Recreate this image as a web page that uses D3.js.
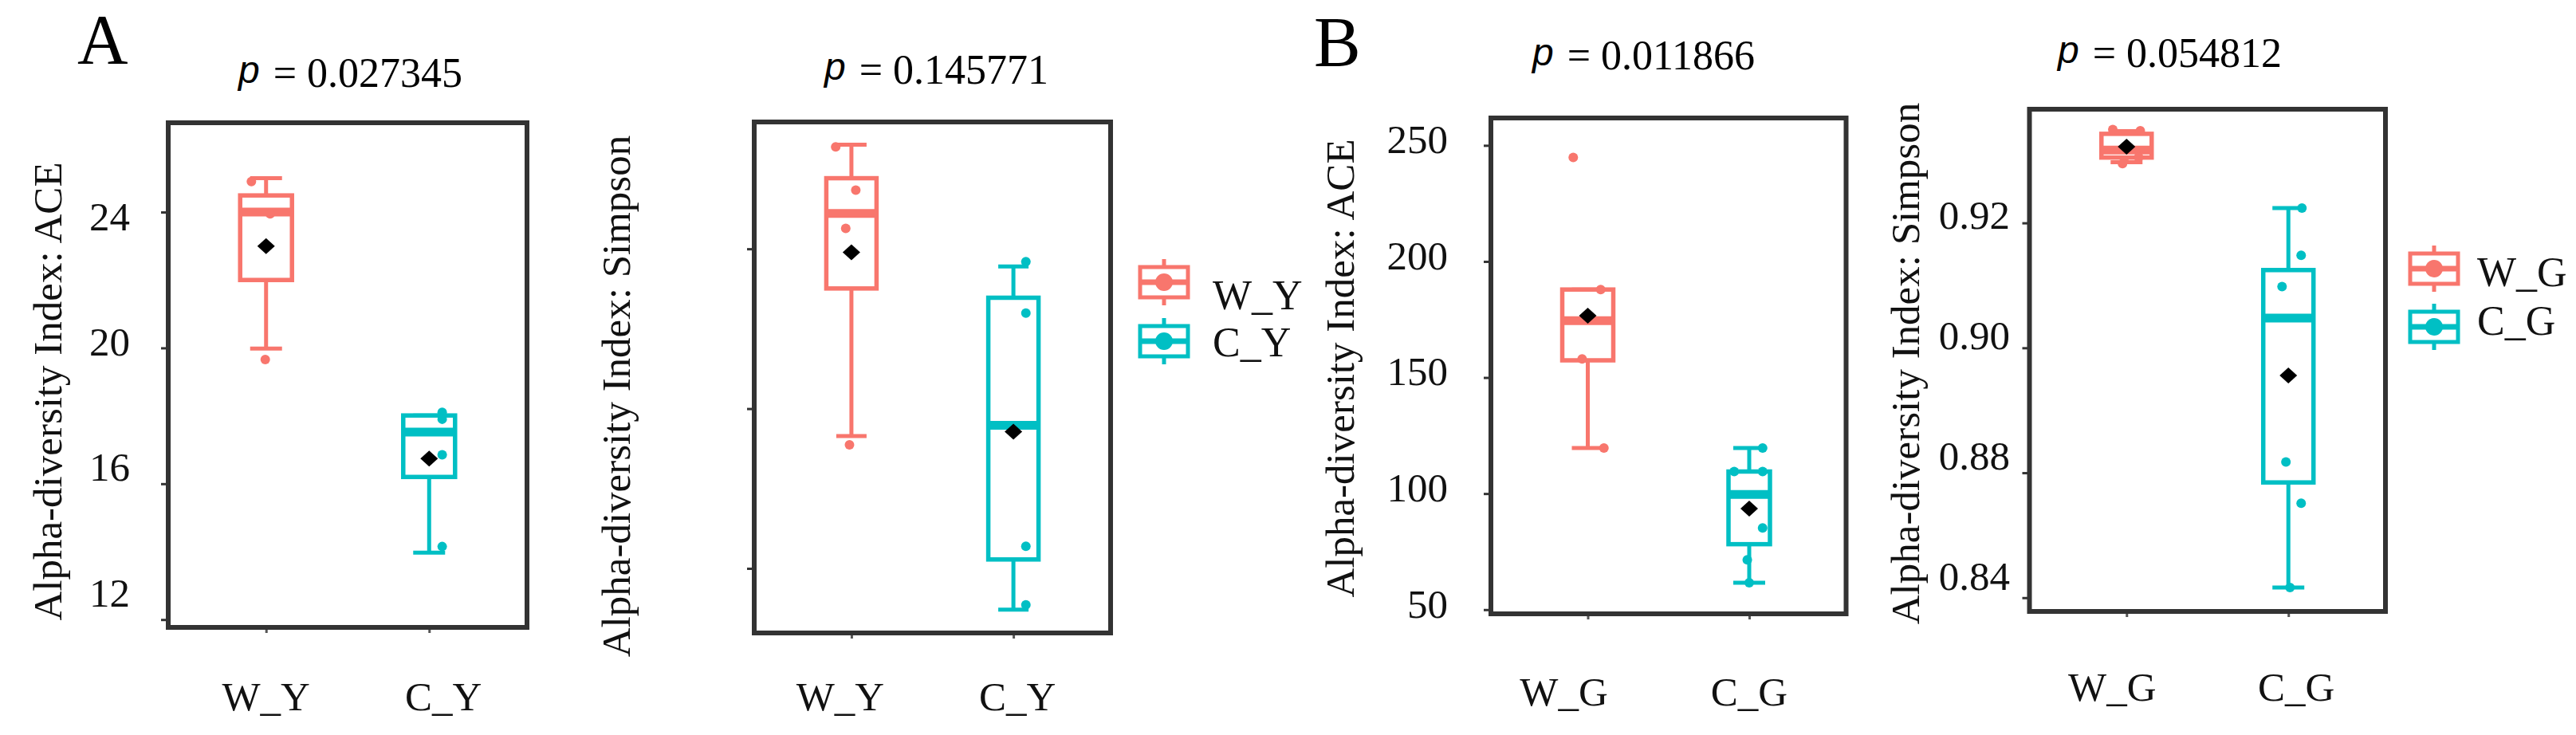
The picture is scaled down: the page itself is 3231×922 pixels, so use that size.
<!DOCTYPE html>
<html><head><meta charset="utf-8">
<script src="https://cdn.jsdelivr.net/npm/d3@7"></script>
<style>body{margin:0;background:#fff}svg{display:block}</style>
</head><body>
<svg id="chart" width="3231" height="922"></svg>
<script>
// ---------------- DATA ----------------
const groupsY = ["W_Y", "C_Y"];
const groupsG = ["W_G", "C_G"];
const groupColors = ["#F8766D", "#00BFC4"];

// Panel A-1 : ACE (Y groups)
const aceY_p = "0.027345";
const aceY_title = "Alpha-diversity Index: ACE";
const aceY_domain = [11.77, 26.63];
const aceY_ticks = [12, 16, 20, 24];
const aceY_tickLabels = ["12", "16", "20", "24"];
const aceY_min = [19.98, 13.97];
const aceY_q1 = [22.0, 16.2];
const aceY_median = [24.0, 17.52];
const aceY_q3 = [24.49, 18.01];
const aceY_max = [25.0, 18.01];
const aceY_mean = [23.0, 16.74];
const aceY_points = [[24.9, 23.95, 19.66], [18.1, 17.9, 16.85, 14.15]];
const aceY_jitter = [[-0.09, 0.025, -0.005], [0.08, 0.08, 0.08, 0.08]];

// Panel A-2 : Simpson (Y groups) - axis values not labelled in the original
const simY_p = "0.145771";
const simY_title = "Alpha-diversity Index: Simpson";
const simY_domain = [0.6798, 0.8397];
const simY_ticks = [0.70, 0.75, 0.80];
const simY_tickLabels = ["", "", ""];
const simY_min = [0.7414, 0.6871];
const simY_q1 = [0.7876, 0.7028];
const simY_median = [0.8111, 0.7448];
const simY_q3 = [0.8221, 0.7847];
const simY_max = [0.8326, 0.7945];
const simY_mean = [0.7989, 0.7428];
const simY_points = [[0.8319, 0.8184, 0.8064, 0.7387], [0.7960, 0.7799, 0.7069, 0.6886]];
const simY_jitter = [[-0.097, 0.027, -0.035, -0.012], [0.077, 0.077, 0.077, 0.077]];

// Panel B-1 : ACE (G groups)
const aceG_p = "0.011866";
const aceG_title = "Alpha-diversity Index: ACE";
const aceG_domain = [48.2, 261.8];
const aceG_ticks = [50, 100, 150, 200, 250];
const aceG_tickLabels = ["50", "100", "150", "200", "250"];
const aceG_min = [119.6, 61.6];
const aceG_q1 = [157.4, 78.2];
const aceG_median = [174.5, 99.6];
const aceG_q3 = [187.9, 109.5];
const aceG_max = [187.9, 119.6];
const aceG_mean = [176.6, 93.5];
const aceG_points = [[244.8, 187.9, 158.0, 119.6], [119.6, 109.5, 109.5, 85.2, 71.5, 61.6]];
const aceG_jitter = [[-0.09, 0.08, -0.035, 0.1], [0.083, -0.093, 0.083, 0.083, -0.012, 0]];

// Panel B-2 : Simpson (G groups)
const simG_p = "0.054812";
const simG_title = "Alpha-diversity Index: Simpson";
const simG_domain = [0.8578, 0.9382];
const simG_ticks = [0.86, 0.88, 0.90, 0.92];
const simG_tickLabels = ["0.84", "0.88", "0.90", "0.92"];
const simG_min = [0.9297, 0.86162];
const simG_q1 = [0.93046, 0.87845];
const simG_median = [0.93167, 0.90475];
const simG_q3 = [0.93426, 0.91245];
const simG_max = [0.9347, 0.92237];
const simG_mean = [0.93221, 0.89559];
const simG_points = [[0.93496, 0.93476, 0.92948, 0.9305], [0.92237, 0.91480, 0.90980, 0.88173, 0.87513, 0.86162]];
const simG_jitter = [[-0.085, 0.085, -0.025, 0.075], [0.084, 0.079, -0.039, -0.015, 0.079, 0.01]];

// ---------------- LAYOUT ----------------
const SERIF = "'Liberation Serif','Times New Roman',Times,serif";
const SANS = "'Liberation Sans',Arial,sans-serif";
const FRAME = "#333333";

const panels = [
  { groups: groupsY, p: aceY_p, title: aceY_title, domain: aceY_domain, ticks: aceY_ticks, tickLabels: aceY_tickLabels,
    min: aceY_min, q1: aceY_q1, median: aceY_median, q3: aceY_q3, max: aceY_max, mean: aceY_mean, points: aceY_points, jitter: aceY_jitter,
    L: { left: 211, right: 661, top: 154, bottom: 787, titleX: 299, titleY: 109, axX: 59, axY: 491,
         labelGap: 48, lblA: 25.6, lblB: 0.9227, xLabelDx: [0, 18], xLabelY: 891, boxW: [65, 65], capW: 40 } },
  { groups: groupsY, p: simY_p, title: simY_title, domain: simY_domain, ticks: simY_ticks, tickLabels: simY_tickLabels,
    min: simY_min, q1: simY_q1, median: simY_median, q3: simY_q3, max: simY_max, mean: simY_mean, points: simY_points, jitter: simY_jitter,
    L: { left: 946, right: 1393, top: 153, bottom: 794, titleX: 1034, titleY: 105, axX: 772, axY: 497,
         labelGap: 40, lblA: 0, lblB: 1, xLabelDx: [-14, 5], xLabelY: 891, boxW: [63, 63], capW: 38,
         legend: { symX: 1460, symY: [354, 428], textX: 1521, textY: [388, 447] } } },
  { groups: groupsG, p: aceG_p, title: aceG_title, domain: aceG_domain, ticks: aceG_ticks, tickLabels: aceG_tickLabels,
    min: aceG_min, q1: aceG_q1, median: aceG_median, q3: aceG_q3, max: aceG_max, mean: aceG_mean, points: aceG_points, jitter: aceG_jitter,
    L: { left: 1870, right: 2315.5, top: 148, bottom: 770, titleX: 1922, titleY: 87, axX: 1680, axY: 462,
         labelGap: 54, lblA: -8, lblB: 1, xLabelDx: [-30, 0], xLabelY: 885, boxW: [64, 52], capW: 40 } },
  { groups: groupsG, p: simG_p, title: simG_title, domain: simG_domain, ticks: simG_ticks, tickLabels: simG_tickLabels,
    min: simG_min, q1: simG_q1, median: simG_median, q3: simG_q3, max: simG_max, mean: simG_mean, points: simG_points, jitter: simG_jitter,
    L: { left: 2545.5, right: 2992, top: 137, bottom: 767, titleX: 2581, titleY: 84, axX: 2389, axY: 456,
         labelGap: 24.5, lblA: 0, lblB: 0.963, xLabelDx: [-18, 10], xLabelY: 879, boxW: [63, 63], capW: 40,
         legend: { symX: 3053, symY: [337, 410], textX: 3107, textY: [359, 420] } } }
];

const panelLetters = [{ t: "A", x: 97, y: 79 }, { t: "B", x: 1648, y: 82 }];

// ---------------- DRAW ----------------
const svg = d3.select("#chart");
svg.append("rect").attr("width", 3231).attr("height", 922).attr("fill", "#fff");

svg.selectAll(".letter").data(panelLetters).join("text")
  .attr("x", d => d.x).attr("y", d => d.y)
  .attr("font-family", SERIF).attr("font-size", 88).attr("fill", "#000")
  .text(d => d.t);

function drawPanel(P) {
  const L = P.L;
  const g = svg.append("g");
  const x = d3.scalePoint().domain(P.groups).range([L.left, L.right]).padding(0.6);
  const y = d3.scaleLinear().domain(P.domain).range([L.bottom, L.top]);
  const step = x.step();

  // title  "p = value"
  const t = g.append("text").attr("x", L.titleX).attr("y", L.titleY)
    .attr("font-family", SERIF).attr("font-size", 52).attr("fill", "#000");
  t.append("tspan").attr("font-family", SANS).attr("font-style", "italic")
    .attr("font-size", 48).attr("dy", -5).text("p");
  t.append("tspan").attr("dy", 5).attr("dx", 4).text(" = " + P.p);

  // y axis ticks
  const ya = g.append("g").attr("transform", `translate(${L.left},0)`)
    .call(d3.axisLeft(y).tickValues(P.ticks).tickFormat("").tickSize(9).tickSizeOuter(0));
  ya.select(".domain").remove();
  ya.selectAll(".tick line").attr("stroke", FRAME).attr("stroke-width", 3);

  // tick labels
  g.selectAll(".tl").data(P.ticks).join("text")
    .attr("x", L.left - L.labelGap)
    .attr("y", d => L.lblA + L.lblB * y(d))
    .attr("dy", "0.35em").attr("text-anchor", "end")
    .attr("font-family", SERIF).attr("font-size", 51).attr("fill", "#111")
    .text((d, i) => P.tickLabels[i]);

  // x axis ticks
  const xa = g.append("g").attr("transform", `translate(0,${L.bottom})`)
    .call(d3.axisBottom(x).tickFormat("").tickSize(7).tickSizeOuter(0));
  xa.select(".domain").remove();
  xa.selectAll(".tick line").attr("stroke", "#555").attr("stroke-width", 3);

  // x labels
  g.selectAll(".xl").data(P.groups).join("text")
    .attr("x", (d, i) => x(d) + L.xLabelDx[i]).attr("y", L.xLabelY)
    .attr("text-anchor", "middle")
    .attr("font-family", SERIF).attr("font-size", 51).attr("fill", "#111")
    .text(d => d);

  // axis title
  g.append("text")
    .attr("transform", `translate(${L.axX},${L.axY}) rotate(-90)`)
    .attr("dy", "0.35em").attr("text-anchor", "middle")
    .attr("font-family", SERIF).attr("font-size", 51).attr("fill", "#111")
    .text(P.title);

  // boxes
  P.groups.forEach((grp, i) => {
    const cx = x(grp), col = groupColors[i], bw = L.boxW[i], cw = L.capW;
    const bg = g.append("g");
    // whiskers
    bg.append("line").attr("x1", cx).attr("x2", cx).attr("y1", y(P.q3[i])).attr("y2", y(P.max[i]))
      .attr("stroke", col).attr("stroke-width", 5);
    bg.append("line").attr("x1", cx).attr("x2", cx).attr("y1", y(P.q1[i])).attr("y2", y(P.min[i]))
      .attr("stroke", col).attr("stroke-width", 5);
    [P.max[i], P.min[i]].forEach(v => {
      bg.append("line").attr("x1", cx - cw / 2).attr("x2", cx + cw / 2).attr("y1", y(v)).attr("y2", y(v))
        .attr("stroke", col).attr("stroke-width", 5);
    });
    // box
    bg.append("rect").attr("x", cx - bw / 2).attr("width", bw)
      .attr("y", y(P.q3[i])).attr("height", y(P.q1[i]) - y(P.q3[i]))
      .attr("fill", "#fff").attr("stroke", col).attr("stroke-width", 5.5);
    // median
    bg.append("line").attr("x1", cx - bw / 2).attr("x2", cx + bw / 2)
      .attr("y1", y(P.median[i])).attr("y2", y(P.median[i]))
      .attr("stroke", col).attr("stroke-width", 11);
    // points
    bg.selectAll("circle").data(P.points[i]).join("circle")
      .attr("cx", (d, j) => cx + P.jitter[i][j] * step).attr("cy", d => y(d))
      .attr("r", 6).attr("fill", col);
    // mean diamond
    const my = y(P.mean[i]);
    bg.append("path").attr("d", `M${cx - 11},${my}L${cx},${my - 10}L${cx + 11},${my}L${cx},${my + 10}Z`)
      .attr("fill", "#000");
  });

  // frame
  g.append("rect").attr("x", L.left).attr("y", L.top)
    .attr("width", L.right - L.left).attr("height", L.bottom - L.top)
    .attr("fill", "none").attr("stroke", FRAME).attr("stroke-width", 6);

  // legend
  if (L.legend) {
    const lg = L.legend;
    P.groups.forEach((grp, i) => {
      const col = groupColors[i], cx = lg.symX, cy = lg.symY[i];
      const s = g.append("g");
      s.append("line").attr("x1", cx).attr("x2", cx).attr("y1", cy - 29).attr("y2", cy + 29)
        .attr("stroke", col).attr("stroke-width", 5);
      s.append("rect").attr("x", cx - 30).attr("y", cy - 19).attr("width", 60).attr("height", 38)
        .attr("fill", "#fff").attr("stroke", col).attr("stroke-width", 5);
      s.append("line").attr("x1", cx - 30).attr("x2", cx + 30).attr("y1", cy).attr("y2", cy)
        .attr("stroke", col).attr("stroke-width", 7);
      s.append("circle").attr("cx", cx).attr("cy", cy).attr("r", 11).attr("fill", col);
      g.append("text").attr("x", lg.textX).attr("y", lg.textY[i])
        .attr("font-family", SERIF).attr("font-size", 52).attr("fill", "#111")
        .text(grp);
    });
  }
}

panels.forEach(drawPanel);
</script>
</body></html>
